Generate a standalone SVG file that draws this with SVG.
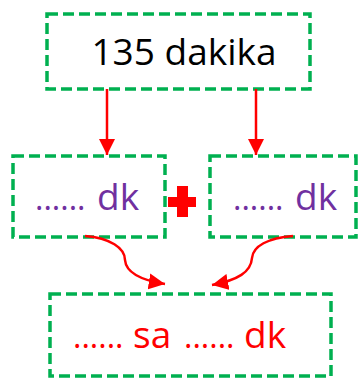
<svg xmlns="http://www.w3.org/2000/svg" width="358" height="383" viewBox="0 0 358 383">
<style>
.box{fill:#fff;stroke:#00B050;stroke-width:3.5;stroke-dasharray:11 5}
.t{font-family:"Open Sans","DejaVu Sans",sans-serif}
.dots{font-size:32px}
.big{font-size:37px}
.con{fill:none;stroke:#FF0000;stroke-width:2.5}
</style>
<defs>
<marker id="ah" viewBox="0 0 10 10" refX="10" refY="5" markerWidth="6.5" markerHeight="6.5" markerUnits="strokeWidth" orient="auto">
<path d="M0,0 L10,5 L0,10 z" fill="#FF0000"/>
</marker>
</defs>
<rect width="358" height="383" fill="#fff"/>
<g id="n-top">
<rect class="box" x="47" y="14" width="263" height="75"/>
<text class="t" x="184" y="65" font-size="37" text-anchor="middle" fill="#000">135 dakika</text>
</g>
<g id="n-left">
<rect class="box" x="13" y="156" width="152" height="81"/>
<text class="t" y="210" fill="#7030A0"><tspan class="dots" x="35">......</tspan><tspan class="big" x="97">dk</tspan></text>
</g>
<g id="n-plus">
<rect x="177" y="186" width="11" height="31" fill="#FF0000"/>
<rect x="168" y="197" width="28" height="10" fill="#FF0000"/>
</g>
<g id="n-right">
<rect class="box" x="210" y="156" width="146" height="81"/>
<text class="t" y="210" fill="#7030A0"><tspan class="dots" x="233">......</tspan><tspan class="big" x="295">dk</tspan></text>
</g>
<g id="n-bottom">
<rect class="box" x="50" y="294" width="281" height="82"/>
<text class="t" y="348" fill="#FF0000"><tspan class="dots" x="73">......</tspan><tspan class="big" x="133">sa</tspan><tspan class="dots" x="184">......</tspan><tspan class="big" x="244">dk</tspan></text>
</g>
<g id="connectors">
<line class="con" x1="107" y1="89" x2="107" y2="155" marker-end="url(#ah)"/>
<line class="con" x1="256" y1="89" x2="256" y2="155" marker-end="url(#ah)"/>
<path class="con" d="M85,236 C110,238 125,248 125,260 C126,272 140,280 165,284" marker-end="url(#ah)"/>
<path class="con" d="M293,236 C268,238 253,246 252,258 C251,272 238,280 212,285" marker-end="url(#ah)"/>
</g>
</svg>
